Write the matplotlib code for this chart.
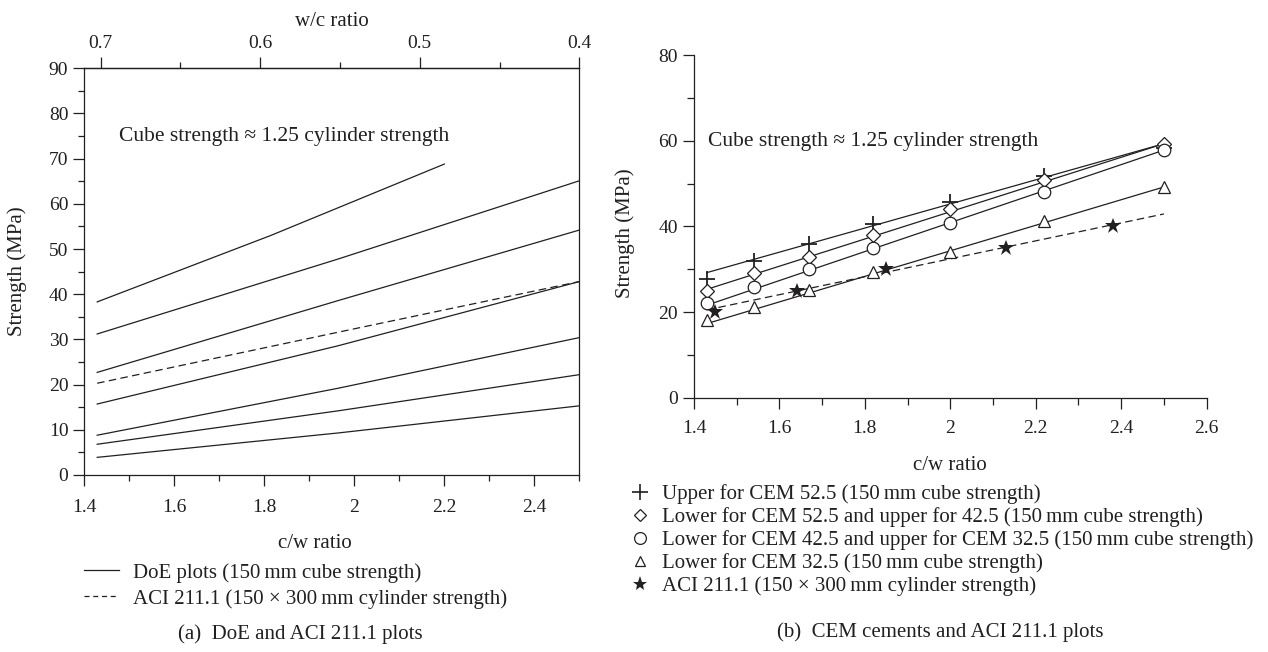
import matplotlib
matplotlib.use('Agg')
import matplotlib.pyplot as plt
from matplotlib.lines import Line2D
from matplotlib.ticker import MultipleLocator, FormatStrFormatter, FuncFormatter
import numpy as np

plt.rcParams['font.family'] = ['Liberation Serif', 'DejaVu Serif']
INK = '#231f20'
plt.rcParams['text.color'] = INK
plt.rcParams['axes.labelcolor'] = INK
plt.rcParams['xtick.color'] = INK
plt.rcParams['ytick.color'] = INK
plt.rcParams['axes.edgecolor'] = INK

# ---- panel (a): DoE curves and ACI 211.1 ----
doe_cw = [1.4286, 1.9643, 2.5]
doe_top_cw = [1.4286, 1.8143, 2.2]
doe_top = [38.3, 53.0, 68.8]
doe_lines = [
    [31.2, 47.8, 65.1],
    [22.7, 38.6, 54.2],
    [15.7, 28.6, 42.8],
    [8.8, 19.2, 30.4],
    [6.8, 14.2, 22.2],
    [3.9, 9.3, 15.3],
]
aci_line_a = [20.3, 31.6, 42.8]

# ---- panel (b): CEM cements ----
cem_cw = [1.43, 1.54, 1.67, 1.82, 2.0, 2.22, 2.5]
cem52_upper = [27.8, 31.9, 35.8, 40.6, 45.7, 51.8, 58.2]
cem52_lower = [24.9, 29.0, 32.9, 38.0, 44.1, 50.8, 59.3]
cem42_lower = [22.0, 25.9, 30.0, 34.9, 40.8, 48.0, 57.8]
cem32_lower = [18.2, 21.2, 25.2, 29.3, 34.1, 41.2, 49.2]
aci_cw = [1.45, 1.64, 1.85, 2.13, 2.38]
aci_strength = [20, 25, 30, 35, 40]
fit_cw = [1.43, 2.5]
fit_52u = [29.2, 59.3]
fit_52l = [25.3, 59.3]
fit_42l = [21.6, 57.8]
fit_32l = [17.3, 49.2]
fit_aci = [20.5, 42.9]

labels_a = ['DoE plots (150\u2009mm cube strength)',
            'ACI 211.1 (150 \u00d7 300\u2009mm cylinder strength)']
labels_b = [
    'Upper for CEM 52.5 (150\u2009mm cube strength)',
    'Lower for CEM 52.5 and upper for 42.5 (150\u2009mm cube strength)',
    'Lower for CEM 42.5 and upper for CEM 32.5 (150\u2009mm cube strength)',
    'Lower for CEM 32.5 (150\u2009mm cube strength)',
    'ACI 211.1 (150 \u00d7 300\u2009mm cylinder strength)',
]
note = 'Cube strength \u2248 1.25 cylinder strength'

FS = 15      # legends, captions, axis labels
TFS = 14     # tick labels
lw = 0.9
dash = (0, (6, 3.5))

fig = plt.figure(figsize=(12.68, 6.52), dpi=100)

# panel (a)
ax1 = fig.add_axes([0.0665, 0.2715, 0.3904, 0.6238])
ax1.plot(doe_top_cw, doe_top, color=INK, lw=lw)
for vals in doe_lines:
    ax1.plot(doe_cw, vals, color=INK, lw=lw)
ax1.plot(doe_cw, aci_line_a, color=INK, lw=lw, ls=dash)
ax1.set_xlim(1.4, 2.5)
ax1.set_ylim(0, 90)
ax1.xaxis.set_major_locator(MultipleLocator(0.2))
ax1.xaxis.set_minor_locator(MultipleLocator(0.1))
ax1.yaxis.set_major_locator(MultipleLocator(10))
ax1.yaxis.set_minor_locator(MultipleLocator(5))
ax1.xaxis.set_major_formatter(FuncFormatter(lambda v, p: f'{v:g}' if v < 2.45 else ''))
ax1.tick_params(which='major', direction='out', length=8, width=0.9, labelsize=TFS)
ax1.tick_params(which='minor', direction='out', length=4.5, width=0.9)
ax1.tick_params(axis='x', pad=9)
ax1.set_xlabel('c/w ratio', fontsize=FS)
ax1.xaxis.set_label_coords(0.466, -0.145)
ax1.set_ylabel('Strength (MPa)', fontsize=FS)
ax1.yaxis.set_label_coords(-0.115, 0.5)
ax1.text(1.477, 74.8, note, fontsize=15.5, ha='left', va='center')
for s in ax1.spines.values():
    s.set_linewidth(0.9)

cw07 = 1.436
def to_wc(cw):
    return 0.4 + (2.5 - np.asarray(cw)) * 0.3 / (2.5 - cw07)
def to_cw(wc):
    return 2.5 - (np.asarray(wc) - 0.4) * (2.5 - cw07) / 0.3

top = ax1.secondary_xaxis('top', functions=(to_wc, to_cw))
top.set_xticks([0.7, 0.6, 0.5, 0.4])
top.set_xticks([0.65, 0.55, 0.45], minor=True)
top.xaxis.set_major_formatter(FormatStrFormatter('%g'))
top.tick_params(which='major', direction='out', length=8, width=0.9, labelsize=TFS)
top.tick_params(which='minor', direction='out', length=4.5, width=0.9)
top.set_xlabel('w/c ratio', fontsize=FS, labelpad=7)
top.spines['top'].set_linewidth(0.9)

# panel (b)
ax2 = fig.add_axes([0.5473, 0.39, 0.4043, 0.5256])
ax2.plot(fit_cw, fit_52u, color=INK, lw=lw)
ax2.plot(fit_cw, fit_52l, color=INK, lw=lw)
ax2.plot(fit_cw, fit_42l, color=INK, lw=lw)
ax2.plot(fit_cw, fit_32l, color=INK, lw=lw)
ax2.plot(fit_cw, fit_aci, color=INK, lw=lw, ls=dash)
ax2.plot(cem_cw, cem52_upper, ls='none', marker='+', ms=12, mew=1.3, color=INK)
ax2.plot(cem_cw, cem52_lower, ls='none', marker='D', ms=7, mew=0.9, mfc='white', mec=INK)
ax2.plot(cem_cw, cem42_lower, ls='none', marker='o', ms=9, mew=0.9, mfc='white', mec=INK)
ax2.plot(cem_cw, cem32_lower, ls='none', marker='^', ms=8, mew=0.9, mfc='white', mec=INK)
ax2.plot(aci_cw, aci_strength, ls='none', marker='*', ms=12, mew=0, color=INK)
ax2.set_xlim(1.4, 2.6)
ax2.set_ylim(0, 80)
ax2.xaxis.set_major_locator(MultipleLocator(0.2))
ax2.xaxis.set_minor_locator(MultipleLocator(0.1))
ax2.yaxis.set_major_locator(MultipleLocator(20))
ax2.yaxis.set_minor_locator(MultipleLocator(10))
ax2.xaxis.set_major_formatter(FuncFormatter(lambda v, p: f'{v:g}'))
ax2.tick_params(which='major', direction='out', length=8, width=0.9, labelsize=TFS)
ax2.tick_params(which='minor', direction='out', length=5, width=0.9)
ax2.tick_params(axis='x', pad=8)
ax2.spines['top'].set_visible(False)
ax2.spines['right'].set_visible(False)
for s in ax2.spines.values():
    s.set_linewidth(0.9)
ax2.set_xlabel('c/w ratio', fontsize=FS)
ax2.xaxis.set_label_coords(0.5, -0.17)
ax2.set_ylabel('Strength (MPa)', fontsize=FS)
ax2.yaxis.set_label_coords(-0.115, 0.48)
ax2.text(1.433, 59.7, note, fontsize=15.5, ha='left', va='center')

# legends
h_a = [Line2D([], [], color=INK, lw=lw),
       Line2D([], [], color=INK, lw=lw, ls=(0, (4, 3)))]
fig.legend(h_a, labels_a,
           loc='upper left', bbox_to_anchor=(84 / 1268, 1 - 563 / 652),
           frameon=False, fontsize=FS, handlelength=1.7, handletextpad=0.65,
           labelspacing=0.3, borderaxespad=0, borderpad=0)

h_b = [Line2D([], [], ls='none', marker='+', ms=11, mew=1.2, color=INK),
       Line2D([], [], ls='none', marker='D', ms=6.5, mew=0.9, mfc='white', mec=INK),
       Line2D([], [], ls='none', marker='o', ms=8.5, mew=0.9, mfc='white', mec=INK),
       Line2D([], [], ls='none', marker='^', ms=7, mew=0.9, mfc='white', mec=INK),
       Line2D([], [], ls='none', marker='*', ms=11, mew=0, color=INK)]
fig.legend(h_b, labels_b, loc='upper left', bbox_to_anchor=(630 / 1268, 1 - 484 / 652),
           frameon=False, fontsize=FS, handlelength=0.95, handletextpad=0.6,
           labelspacing=0.15, borderaxespad=0, borderpad=0)

fig.text(300 / 1268, 1 - 634 / 652, '(a)  DoE and ACI 211.1 plots', fontsize=FS,
         ha='center', va='center')
fig.text(940 / 1268, 1 - 632 / 652, '(b)  CEM cements and ACI 211.1 plots', fontsize=FS,
         ha='center', va='center')

fig.savefig('out.png', dpi=100)
